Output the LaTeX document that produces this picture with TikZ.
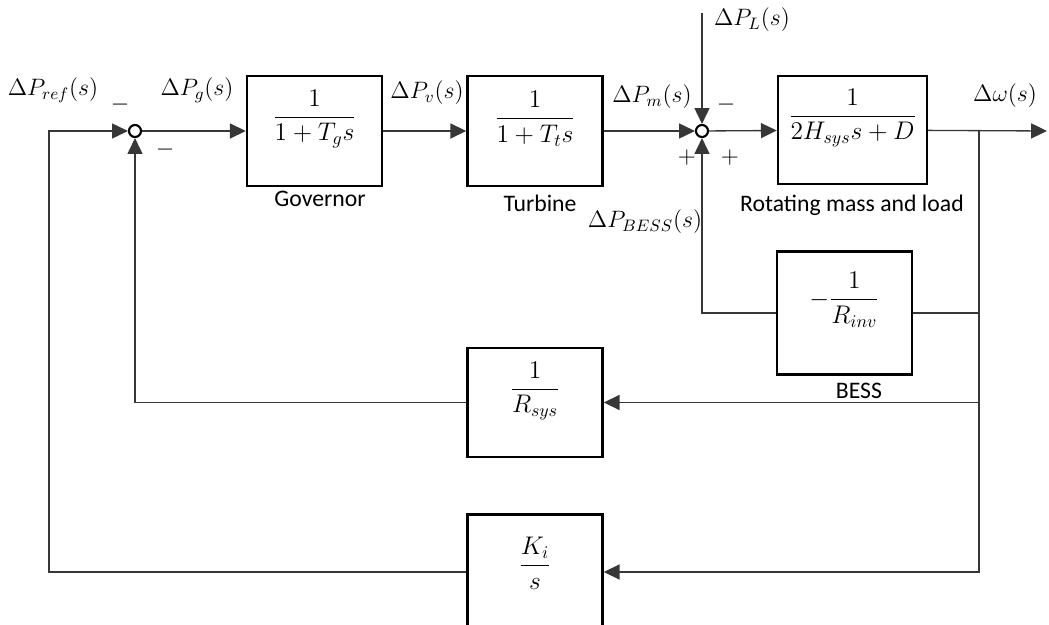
\RequirePackage{fix-cm}
\documentclass[tikz,border=0pt]{standalone}
\usepackage{amsmath}
\usepackage[no-math]{fontspec}
\setmainfont{Carlito}
\usepackage{tikz}
\usetikzlibrary{arrows.meta,positioning,calc}
\definecolor{lfcLine}{RGB}{55, 55, 55}

\begin{document}
\begin{tikzpicture}[
    x=0.02cm, y=-0.02cm,
    blockBox/.style={
        rectangle,
        draw=black, line width=1.4pt,
        minimum width=2.7cm, minimum height=2.2cm, inner sep=0pt
    },
    sumJoint/.style={
        circle,
        draw=black, line width=1.2pt, fill=white,
        minimum size=0.24cm, inner sep=0pt
    },
    tfText/.style={
        font=\fontsize{14.5}{17}\selectfont, inner sep=0pt
    },
    sigLabel/.style={
        font=\fontsize{13.5}{16}\selectfont, inner sep=0pt
    },
    blockCaption/.style={
        font=\fontsize{13.5}{16}\selectfont, inner sep=0pt
    },
    sigLine/.style={
        line width=0.75pt, draw=lfcLine
    },
    sigArrow/.style={
        sigLine, -{Triangle[length=9pt, width=8.5pt]}
    }
]
    \useasboundingbox (0,0) rectangle (1049,625);

    % Summing points
    \node[sumJoint] (sum1) at (135, 131) {};
    \node[sumJoint] (sum2) at (702, 131) {};

    % Blocks
    \node[blockBox] (gov) at (314.5, 131) {};
    \node[blockBox] (turb) at (535, 131) {};
    \node[blockBox, minimum width=2.98cm, minimum height=2.16cm] (rot) at (852.5, 130) {};
    \node[blockBox, minimum height=2.46cm] (bess) at (844.5, 313) {};
    \node[blockBox, minimum height=2.18cm] (rsys) at (535, 402.5) {};
    \node[blockBox, minimum height=2.3cm] (ki) at (535, 572) {};

    % Transfer functions
    \node[tfText] (govTf) at ([yshift=0.24cm]gov.center) {$\dfrac{1}{1+T_g s}$};
    \node[tfText] (turbTf) at ([yshift=0.24cm]turb.center) {$\dfrac{1}{1+T_t s}$};
    \node[tfText] (rotTf) at ([yshift=0.24cm]rot.center) {$\dfrac{1}{2H_{sys}s+D}$};
    \node[tfText] (bessTf) at ([yshift=0.26cm]bess.center) {$-\dfrac{1}{R_{inv}}$};
    \node[tfText] (rsysTf) at ([yshift=0.23cm]rsys.center) {$\dfrac{1}{R_{sys}}$};
    \node[tfText] (kiTf) at ([yshift=0.18cm]ki.center) {$\dfrac{K_i}{s}$};

    % Block captions
    \node[blockCaption] (govName) at (320, 199) {Governor};
    \node[blockCaption] (turbName) at (540, 203) {Turbine};
    \node[blockCaption] (rotName) at (852, 205) {Rotating mass and load};
    \node[blockCaption] (bessName) at (859, 391) {BESS};

    % Corner points
    \coordinate (refCorner) at (49, 131);
    \coordinate (loadIn) at (702, 13);
    \coordinate (branch) at (979, 131);
    \coordinate (branchEnd) at (979, 572);
    \coordinate (omegaOut) at (1047, 131);

    % Forward path
    \draw[sigArrow] (sum1) -- (gov);
    \draw[sigArrow] (gov) -- (turb);
    \draw[sigArrow] (turb) -- (sum2);
    \draw[sigArrow] (loadIn) -- (sum2);
    \draw[sigArrow] (sum2) -- (rot);
    \draw[sigArrow] (rot) -- (omegaOut);

    % Feedback paths
    \draw[sigLine] (branch) -- (branchEnd);
    \draw[sigLine] (branch) |- (bess.east);
    \draw[sigArrow] (bess.west) -| (sum2);
    \draw[sigArrow] (branch) |- (rsys.east);
    \draw[sigArrow] (rsys.west) -| (sum1);
    \draw[sigArrow] (branch) |- (ki.east);
    \draw[sigArrow] (ki.west) -| (refCorner) -- (sum1);

    % Signal labels
    \node[sigLabel] (refLbl) at (53, 90) {$\Delta P_{ref}(s)$};
    \node[sigLabel] (pgLbl) at (197, 90) {$\Delta P_g(s)$};
    \node[sigLabel] (pvLbl) at (427, 93) {$\Delta P_v(s)$};
    \node[sigLabel] (pmLbl) at (652, 97) {$\Delta P_m(s)$};
    \node[sigLabel] (plLbl) at (752, 20) {$\Delta P_L(s)$};
    \node[sigLabel] (omegaLbl) at (1005, 96) {$\Delta\omega(s)$};
    \node[sigLabel] (pbessLbl) at (645, 222) {$\Delta P_{BESS}(s)$};

    % Signs
    \node[sigLabel] (sign1a) at (120, 105) {$-$};
    \node[sigLabel] (sign1b) at (165, 150) {$-$};
    \node[sigLabel] (sign2a) at (726, 105) {$-$};
    \node[sigLabel] (sign2b) at (687, 158) {$+$};
    \node[sigLabel] (sign2c) at (730, 158) {$+$};

\end{tikzpicture}
\end{document}
